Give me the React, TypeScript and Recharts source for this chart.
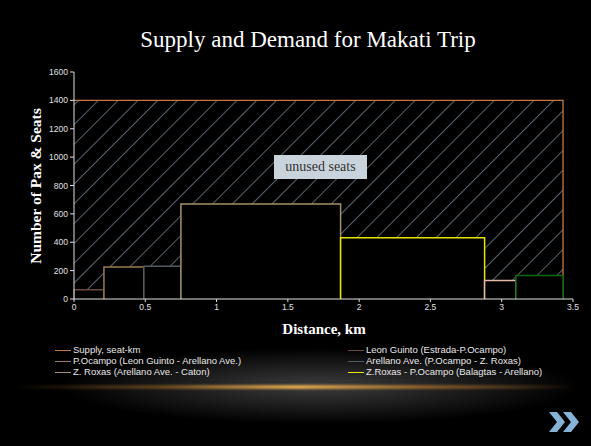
import { Area, ComposedChart, XAxis, YAxis } from 'recharts'

// segment values
const segmentNames = [
  'Leon Guinto (Estrada-P.Ocampo)',
  'P.Ocampo (Leon Guinto - Arellano Ave.)',
  'Arellano Ave. (P.Ocampo - Z. Roxas)',
  'Z. Roxas (Arellano Ave. - Caton)',
  'Z.Roxas - P.Ocampo (Balagtas - Arellano)',
  'Segment 6',
  'Segment 7',
]
const segmentStart = [0, 0.21, 0.49, 0.75, 1.87, 2.88, 3.1]
const segmentEnd = [0.21, 0.49, 0.75, 1.87, 2.88, 3.1, 3.43]
const segmentPax = [65, 225, 230, 670, 432, 130, 165]
const inLegend = [true, true, true, true, true, false, false]

const supplyName = 'Supply, seat-km'
const supplyDistance = 3.43
const supplySeats = 1400

const xTicks = [0, 0.5, 1, 1.5, 2, 2.5, 3, 3.5]
const yTicks = [0, 200, 400, 600, 800, 1000, 1200, 1400, 1600]

const supplyColor = '#c47a45'
const segmentColors = ['#6b4a3c', '#9a7a56', '#4f5c62', '#a3926c', '#e6e600', '#e8b8a8', '#0d6b12']

const supplyData = [
  { x: 0, y: supplySeats },
  { x: supplyDistance, y: supplySeats },
  { x: supplyDistance, y: 0 },
]

const stepData = segmentPax.map((v, i) => [
  { x: segmentStart[i], y: 0 },
  { x: segmentStart[i], y: v },
  { x: segmentEnd[i], y: v },
  { x: segmentEnd[i], y: 0 },
])

const legendItems = [
  { name: supplyName, color: supplyColor },
  ...segmentNames.map((n, i) => ({ name: n, color: segmentColors[i] })).filter((_, i) => inLegend[i]),
]

const serif = '"Liberation Serif", "DejaVu Serif", serif'
const sans = '"Liberation Sans", Arial, sans-serif'

export default function App() {
  return (
    <div
      style={{
        position: 'absolute',
        left: 0,
        top: 0,
        width: 591,
        height: 446,
        overflow: 'hidden',
        background:
          'radial-gradient(ellipse 260px 38px at 320px 386px, rgba(110,110,110,0.55), rgba(0,0,0,0) 100%), #000',
      }}
    >
      <svg width={0} height={0} style={{ position: 'absolute' }}>
        <defs>
          <pattern id='hatch' patternUnits='userSpaceOnUse' width={14} height={14} patternTransform='rotate(45)'>
            <rect width={14} height={14} fill='#000' />
            <line x1={0} y1={0} x2={0} y2={14} stroke='#7c8d9c' strokeWidth={1.4} />
          </pattern>
        </defs>
      </svg>

      <div
        style={{
          position: 'absolute',
          left: 0,
          width: 616,
          top: 27,
          textAlign: 'center',
          color: '#fff',
          fontFamily: serif,
          fontSize: 23,
        }}
      >
        Supply and Demand for Makati Trip
      </div>

      <div style={{ position: 'absolute', left: 0, top: 0 }}>
        <ComposedChart width={591} height={446} margin={{ top: 72, right: 18, bottom: 117, left: 34 }}>
          <XAxis
            dataKey='x'
            type='number'
            domain={[0, 3.5]}
            ticks={xTicks}
            allowDuplicatedCategory={false}
            stroke='#e0e0e0'
            tickSize={3}
            height={30}
            tick={{ fill: '#e0e0e0', fontSize: 8.5, fontFamily: sans }}
          />
          <YAxis
            type='number'
            domain={[0, 1600]}
            ticks={yTicks}
            width={40}
            stroke='#e0e0e0'
            tickSize={4}
            tick={{ fill: '#e0e0e0', fontSize: 8.5, fontFamily: sans }}
          />
          <Area
            data={supplyData}
            dataKey='y'
            type='linear'
            name={supplyName}
            stroke={supplyColor}
            strokeWidth={1.3}
            fill='url(#hatch)'
            fillOpacity={1}
            isAnimationActive={false}
            dot={false}
            activeDot={false}
          />
          {stepData.map((d, i) => (
            <Area
              key={i}
              data={d}
              dataKey='y'
              type='linear'
              name={segmentNames[i]}
              stroke={segmentColors[i]}
              strokeWidth={1.5}
              fill='#000'
              fillOpacity={1}
              isAnimationActive={false}
              dot={false}
              activeDot={false}
            />
          ))}
        </ComposedChart>
      </div>

      <div
        style={{
          position: 'absolute',
          left: 274,
          top: 155,
          width: 93,
          height: 24,
          background: '#c9d3dc',
          color: '#333',
          fontFamily: serif,
          fontSize: 14,
          lineHeight: '24px',
          textAlign: 'center',
        }}
      >
        unused seats
      </div>

      <div
        style={{
          position: 'absolute',
          left: 36,
          top: 186,
          transform: 'translate(-50%, -50%) rotate(-90deg)',
          whiteSpace: 'nowrap',
          color: '#fff',
          fontFamily: serif,
          fontWeight: 'bold',
          fontSize: 15.5,
        }}
      >
        Number of Pax &amp; Seats
      </div>

      <div
        style={{
          position: 'absolute',
          left: 324,
          top: 329,
          transform: 'translate(-50%, -50%)',
          whiteSpace: 'nowrap',
          color: '#fff',
          fontFamily: serif,
          fontWeight: 'bold',
          fontSize: 15,
        }}
      >
        Distance, km
      </div>

      <div
        style={{
          position: 'absolute',
          left: 55,
          top: 344,
          width: 520,
          display: 'grid',
          gridTemplateColumns: '293px 227px',
          gridAutoRows: '11px',
          fontFamily: sans,
          fontSize: 9.5,
          lineHeight: '11px',
          color: '#e8e8e8',
        }}
      >
        {legendItems.map((it) => (
          <div key={it.name} style={{ position: 'relative', paddingLeft: 18, whiteSpace: 'nowrap' }}>
            <span
              style={{ position: 'absolute', left: 0, top: 6, width: 16, height: 1, background: it.color }}
            />
            {it.name}
          </div>
        ))}
      </div>

      <div
        style={{
          position: 'absolute',
          left: 15,
          top: 385,
          width: 560,
          height: 4,
          filter: 'blur(1px)',
          background:
            'linear-gradient(to right, rgba(0,0,0,0), rgba(120,80,30,0.7) 25%, #e0a850 50%, rgba(150,100,40,0.8) 75%, rgba(0,0,0,0))',
        }}
      />

      <svg style={{ position: 'absolute', left: 548, top: 410 }} width={34} height={24}>
        <polygon points='1,2 9,2 17,12 9,22 1,22 9,12' fill='#86b2d8' />
        <polygon points='15,2 23,2 31,12 23,22 15,22 23,12' fill='#86b2d8' />
      </svg>
    </div>
  )
}
